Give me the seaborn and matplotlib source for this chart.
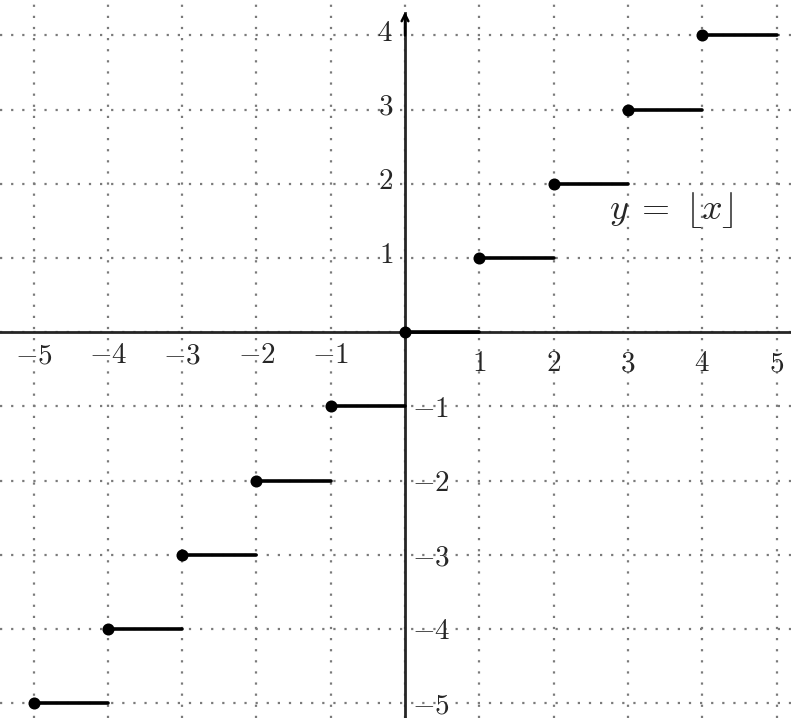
import numpy as np
import pandas as pd
import matplotlib
matplotlib.use("Agg")
import matplotlib.pyplot as plt
import seaborn as sns

# Data: floor function steps y = floor(x) on [-5, 5)
step_left = [-5, -4, -3, -2, -1, 0, 1, 2, 3, 4]
step_right = [-4, -3, -2, -1, 0, 1, 2, 3, 4, 5]
step_value = [-5, -4, -3, -2, -1, 0, 1, 2, 3, 4]

x_ticks = [-5, -4, -3, -2, -1, 1, 2, 3, 4, 5]
y_ticks = [-5, -4, -3, -2, -1, 1, 2, 3, 4]
label_text = r"$y\;=\;\lfloor x\rfloor$"

sns.set_style("white")
plt.rcParams["mathtext.fontset"] = "cm"

fig = plt.figure(figsize=(7.91, 7.18), dpi=100)
ax = fig.add_axes([0, 0, 1, 1])

xlim = (-5.451, 5.195)
ylim = (-5.198, 4.478)
ax.set_xlim(*xlim)
ax.set_ylim(*ylim)

# grid
ax.set_xticks(range(-5, 6))
ax.set_yticks(range(-5, 5))
ax.grid(True, linestyle=(0, (1, 4)), color="#7a7a7a", linewidth=1.6)
ax.set_axisbelow(True)

# axes through origin
for s in ["top", "right"]:
    ax.spines[s].set_visible(False)
ax.spines["left"].set_position(("data", 0))
ax.spines["bottom"].set_position(("data", 0))
ax.spines["left"].set_linewidth(2.0)
ax.spines["bottom"].set_linewidth(2.0)
ax.spines["left"].set_bounds(ylim[0], 4.3)
ax.spines["left"].set_zorder(1)
ax.spines["bottom"].set_zorder(1)
ax.annotate("", xy=(0, 4.32), xytext=(0, 4.0),
            arrowprops=dict(arrowstyle="->", lw=1.8, color="black",
                            shrinkA=0, shrinkB=0, mutation_scale=12))
ax.tick_params(axis="both", which="both", direction="out", length=4,
               width=1.8, color="black", labelbottom=False, labelleft=False)

# steps
rows = []
for i, (a, b, v) in enumerate(zip(step_left, step_right, step_value)):
    rows.append({"seg": i, "x": a, "y": v})
    rows.append({"seg": i, "x": b, "y": v})
df = pd.DataFrame(rows)
sns.lineplot(data=df, x="x", y="y", units="seg", estimator=None,
             color="black", linewidth=2.6, ax=ax, zorder=3)
dots = pd.DataFrame({"x": step_left, "y": step_value})
sns.scatterplot(data=dots, x="x", y="y", color="black", s=75,
                edgecolor="black", linewidth=0, ax=ax, zorder=4)
ax.set_xlabel("")
ax.set_ylabel("")

fs = 21
for t in x_ticks:
    dy = -0.31 if t < 0 else -0.42
    ax.text(t, dy, rf"${t}$", ha="center", va="center", fontsize=fs)
for t in y_ticks:
    if t > 0:
        ax.text(-0.16, t + 0.04, rf"${t}$", ha="right", va="center", fontsize=fs)
    else:
        ax.text(0.10, t - 0.03, rf"${t}$", ha="left", va="center", fontsize=fs)

ax.text(3.58, 1.65, label_text, ha="center", va="center", fontsize=26)

fig.savefig("out.png", dpi=100)
